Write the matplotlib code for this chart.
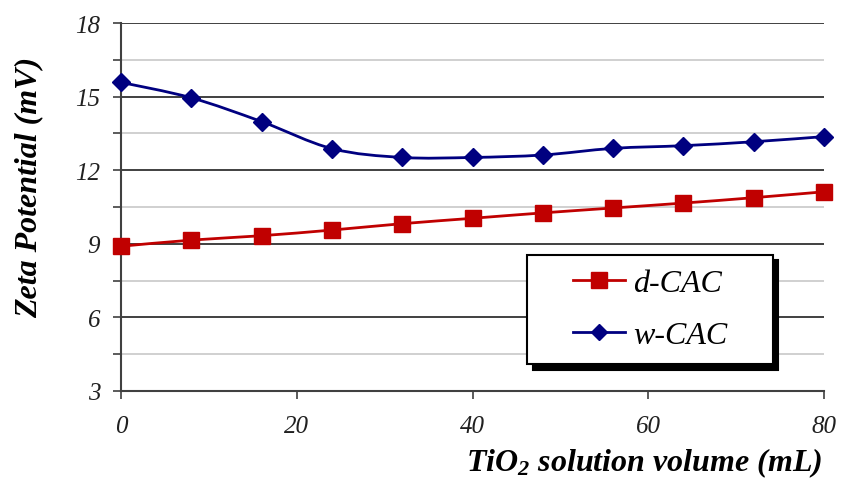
import matplotlib.pyplot as plt
import matplotlib.transforms as mtransforms
from matplotlib.path import Path
from matplotlib.patches import PathPatch, Rectangle
from matplotlib.lines import Line2D
import numpy as np

plt.rcParams['font.family'] = ['Liberation Serif', 'DejaVu Serif']
plt.rcParams['mathtext.fontset'] = 'custom'
plt.rcParams['mathtext.rm'] = 'Liberation Serif:italic:bold'
plt.rcParams['mathtext.it'] = 'Liberation Serif:italic:bold'
plt.rcParams['mathtext.bf'] = 'Liberation Serif:italic:bold'

volume = [0, 8, 16, 24, 32, 40, 48, 56, 64, 72, 80]
d_cac = [8.9, 9.15, 9.33, 9.56, 9.82, 10.04, 10.26, 10.46, 10.66, 10.88, 11.12]
w_cac = [15.58, 14.95, 13.98, 12.88, 12.52, 12.52, 12.62, 12.89, 13.0, 13.16, 13.37]

red = '#C00000'
navy = '#000080'


def smooth_path(ax, xs, ys, color):
    # smoothed line like excel: bezier segments through the points (display space)
    pts = ax.transData.transform(np.column_stack([xs, ys]))
    n = len(pts)
    verts = [pts[0]]
    codes = [Path.MOVETO]
    t = 1 / 6
    for i in range(n - 1):
        p0 = pts[i - 1] if i > 0 else pts[i]
        p1 = pts[i]
        p2 = pts[i + 1]
        p3 = pts[i + 2] if i + 2 < n else pts[i + 1]
        c1 = p1 + (p2 - p0) * t
        c2 = p2 - (p3 - p1) * t
        verts += [c1, c2, p2]
        codes += [Path.CURVE4] * 3
    patch = PathPatch(Path(verts, codes), facecolor='none', edgecolor=color,
                      lw=2, transform=None, zorder=3)
    ax.add_patch(patch)


fig = plt.figure(figsize=(8.41, 4.85), dpi=100)
ax = fig.add_axes([0.1439, 0.1918, 0.836, 0.7587])
ax.set_xlim(0, 80)
ax.set_ylim(3, 18)

ax.set_yticks([3, 6, 9, 12, 15, 18])
ax.set_yticks(np.arange(3, 18.1, 1.5), minor=True)
ax.set_xticks([0, 20, 40, 60, 80])
ax.grid(True, which='minor', axis='y', color='#c8c8c8', lw=1.2)
ax.grid(True, which='major', axis='y', color='#202020', lw=1.2)
ax.set_axisbelow(True)

for s in ['top', 'right']:
    ax.spines[s].set_visible(False)
for s in ['left', 'bottom']:
    ax.spines[s].set_color('#404040')
    ax.spines[s].set_linewidth(1.5)

ax.tick_params(axis='both', which='both', direction='out', length=6,
               color='#404040', width=1.2, labelsize=18, labelcolor='#202020')
ax.tick_params(axis='y', pad=9)
ax.tick_params(axis='x', pad=11)
for lab in ax.get_xticklabels() + ax.get_yticklabels():
    lab.set_fontstyle('italic')

fig.canvas.draw()
smooth_path(ax, volume, d_cac, red)
smooth_path(ax, volume, w_cac, navy)
ax.plot(volume, d_cac, ls='none', marker='s', ms=11, color=red, zorder=4,
        clip_on=False)
ax.plot(volume, w_cac, ls='none', marker='D', ms=9.5, color=navy, zorder=4,
        clip_on=False)

ax.set_ylabel('Zeta Potential (mV)', fontsize=23, fontweight='bold',
              fontstyle='italic')
ax.yaxis.set_label_coords(-0.11, 0.557)
ax.set_xlabel(r'TiO$_{2}$ solution volume (mL)', fontsize=23, fontweight='bold',
              fontstyle='italic')
ax.xaxis.set_label_coords(0.997, -0.148)
ax.xaxis.label.set_horizontalalignment('right')

# legend box with hard black shadow
shift = mtransforms.ScaledTranslation(4 / 72, -4 / 72, fig.dpi_scale_trans)
shadow = Rectangle((0.578, 0.073), 0.349, 0.297, transform=ax.transAxes + shift,
                   facecolor='black', edgecolor='black', lw=1.5, zorder=5)
box = Rectangle((0.578, 0.073), 0.349, 0.297, transform=ax.transAxes,
                facecolor='white', edgecolor='black', lw=1.5, zorder=6)
ax.add_patch(shadow)
ax.add_patch(box)

handles = [Line2D([], [], color=red, lw=2, marker='s', ms=11),
           Line2D([], [], color=navy, lw=2, marker='D', ms=8)]
leg = ax.legend(handles, ['d-CAC', 'w-CAC'], loc='center',
                bbox_to_anchor=(0.7525, 0.2215), frameon=False,
                prop={'family': 'Liberation Serif', 'style': 'italic', 'size': 23},
                handlelength=1.65, handletextpad=0.25, labelspacing=0.7)
leg.set_zorder(7)

fig.savefig('out.png', dpi=100)
